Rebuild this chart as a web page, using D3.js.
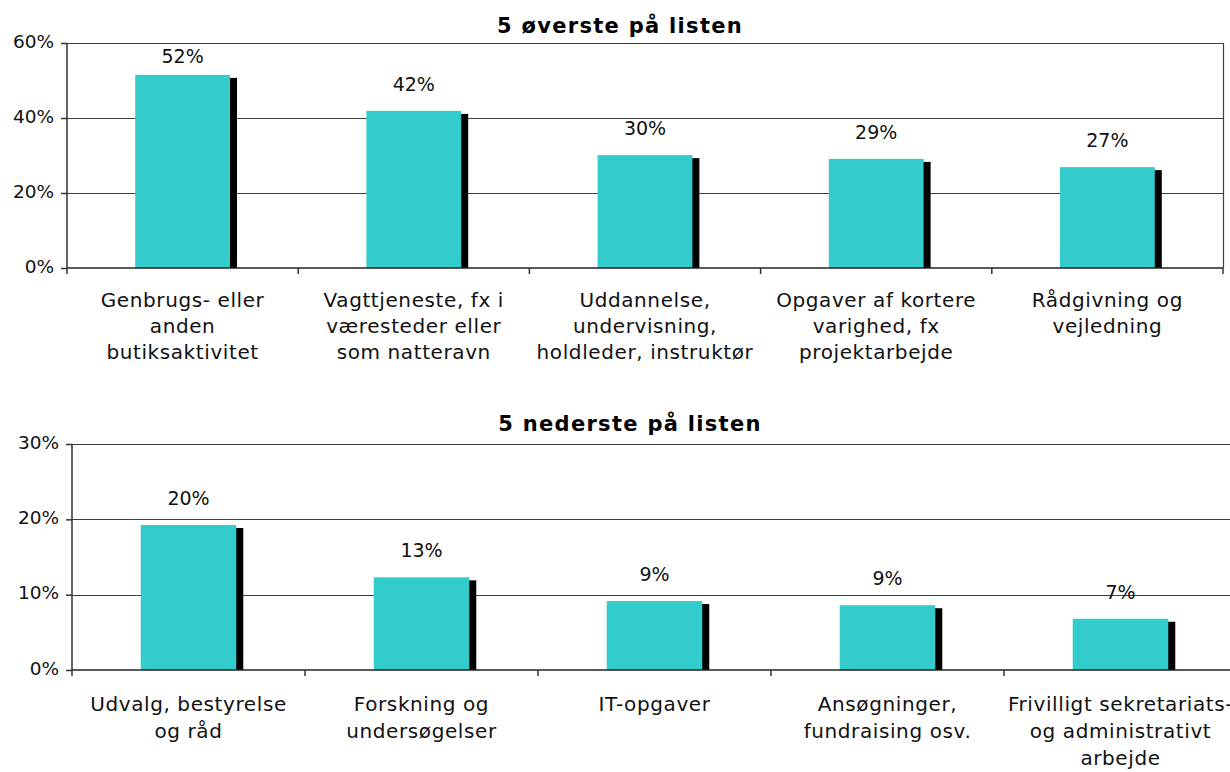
<!DOCTYPE html>
<html>
<head>
<meta charset="utf-8">
<script src="https://cdn.jsdelivr.net/npm/d3@7"></script>
<style>
  body { margin: 0; background: #fff; }
  svg { display: block; font-family: "DejaVu Sans", Verdana, sans-serif; }
  .title { font-size: 21px; font-weight: bold; letter-spacing: 1.3px; }
  .tick text { font-size: 18.5px; fill: #111; }
  .val { font-size: 19px; fill: #111; }
  .cat { font-size: 20px; fill: #111; letter-spacing: 0.6px; }
</style>
</head>
<body>
<svg></svg>
<script>
// top 5
var topCategories = [
	['Genbrugs- eller', 'anden', 'butiksaktivitet'],
	['Vagttjeneste, fx i', 'væresteder eller', 'som natteravn'],
	['Uddannelse,', 'undervisning,', 'holdleder, instruktør'],
	['Opgaver af kortere', 'varighed, fx', 'projektarbejde'],
	['Rådgivning og', 'vejledning']
];
var topValues = [0.515, 0.419, 0.301, 0.291, 0.269];
var topLabels = ['52%', '42%', '30%', '29%', '27%'];
var topTicks = [0, 0.2, 0.4, 0.6];

// bottom 5
var bottomCategories = [
	['Udvalg, bestyrelse', 'og råd'],
	['Forskning og', 'undersøgelser'],
	['IT-opgaver'],
	['Ansøgninger,', 'fundraising osv.'],
	['Frivilligt sekretariats-', 'og administrativt', 'arbejde']
];
var bottomValues = [0.1925, 0.123, 0.0915, 0.086, 0.068];
var bottomLabels = ['20%', '13%', '9%', '9%', '7%'];
var bottomTicks = [0, 0.1, 0.2, 0.3];

var svg = d3.select('svg')
	.attr('width', 1230)
	.attr('height', 772);

var drawPanel = function (opt) {
	var g = svg.append('g');
	var x = d3.scaleBand()
		.domain(d3.range(opt.cats.length))
		.range([opt.left, opt.right])
		.padding(0);
	var y = d3.scaleLinear()
		.domain([0, opt.max])
		.range([opt.bottom, opt.top]);
	var barW = x.bandwidth() * 0.41;

	// title
	g.append('text')
		.attr('class', 'title')
		.attr('x', opt.titleX)
		.attr('y', opt.titleY)
		.attr('text-anchor', 'middle')
		.text(opt.title);

	// gridlines
	g.append('g').selectAll('line')
		.data(opt.ticks.slice(1))
		.enter().append('line')
		.attr('x1', opt.left).attr('x2', opt.right)
		.attr('y1', function (d) { return Math.round(y(d)) + 0.5; })
		.attr('y2', function (d) { return Math.round(y(d)) + 0.5; })
		.attr('stroke', '#404040')
		.attr('stroke-width', 1.2);

	if (opt.rightBorder) {
		g.append('line')
			.attr('x1', opt.right + 0.5).attr('x2', opt.right + 0.5)
			.attr('y1', opt.top).attr('y2', opt.bottom)
			.attr('stroke', '#404040')
			.attr('stroke-width', 1.2);
	}

	// shadows, then bars
	g.append('g').selectAll('rect')
		.data(opt.values)
		.enter().append('rect')
		.attr('x', function (d, i) { return x(i) + (x.bandwidth() - barW) / 2 + 7; })
		.attr('y', function (d) { return y(d) + 3; })
		.attr('width', barW)
		.attr('height', function (d) { return opt.bottom - y(d) - 3; })
		.attr('fill', '#000');

	g.append('g').selectAll('rect')
		.data(opt.values)
		.enter().append('rect')
		.attr('x', function (d, i) { return x(i) + (x.bandwidth() - barW) / 2; })
		.attr('y', function (d) { return y(d); })
		.attr('width', barW)
		.attr('height', function (d) { return opt.bottom - y(d); })
		.attr('fill', '#33CCCC');

	// value labels
	g.append('g').selectAll('text')
		.data(opt.values)
		.enter().append('text')
		.attr('class', 'val')
		.attr('text-anchor', 'middle')
		.attr('x', function (d, i) { return x(i) + x.bandwidth() / 2; })
		.attr('y', function (d) { return Math.max(y(d) - 20, opt.top + 20); })
		.text(function (d, i) { return opt.labels[i]; });

	// y axis
	var yAxis = d3.axisLeft(y)
		.tickValues(opt.ticks)
		.tickFormat(d3.format('.0%'))
		.tickSize(6)
		.tickPadding(7);
	var ya = g.append('g')
		.attr('transform', 'translate(' + opt.left + ',0)')
		.call(yAxis);
	ya.selectAll('path, line').attr('stroke', '#333').attr('stroke-width', 1.5);
	ya.select('.domain').attr('d', 'M0,' + opt.top + 'V' + opt.bottom);
	ya.selectAll('text').attr('dy', '0.23em').attr('fill', '#111');
	ya.attr('font-family', null).attr('font-size', null);

	// x axis (ticks on category boundaries)
	var bounds = d3.range(opt.cats.length + 1).map(function (i) {
		return opt.left + i * x.step();
	});
	g.append('line')
		.attr('x1', opt.left).attr('x2', opt.right)
		.attr('y1', opt.bottom).attr('y2', opt.bottom)
		.attr('stroke', '#222')
		.attr('stroke-width', 1.5);
	g.append('g').selectAll('line')
		.data(bounds)
		.enter().append('line')
		.attr('x1', function (d) { return d; })
		.attr('x2', function (d) { return d; })
		.attr('y1', opt.bottom)
		.attr('y2', opt.bottom + 6)
		.attr('stroke', '#333')
		.attr('stroke-width', 1.5);

	// category labels
	var cat = g.append('g').selectAll('text')
		.data(opt.cats)
		.enter().append('text')
		.attr('class', 'cat')
		.attr('text-anchor', 'middle')
		.attr('x', function (d, i) { return x(i) + x.bandwidth() / 2; })
		.attr('y', opt.bottom + opt.catOffset);
	cat.selectAll('tspan')
		.data(function (d) { return d; })
		.enter().append('tspan')
		.attr('x', function () { return d3.select(this.parentNode).attr('x'); })
		.attr('dy', function (d, i) { return i === 0 ? 0 : opt.lineH; })
		.text(function (d) { return d; });
};

drawPanel({
	title: '5 øverste på listen', titleX: 620, titleY: 33,
	cats: topCategories, values: topValues, labels: topLabels,
	ticks: topTicks, max: 0.6,
	left: 67, right: 1223, top: 43, bottom: 268,
	rightBorder: true, catOffset: 39, lineH: 26
});

drawPanel({
	title: '5 nederste på listen', titleX: 630, titleY: 431,
	cats: bottomCategories, values: bottomValues, labels: bottomLabels,
	ticks: bottomTicks, max: 0.3,
	left: 72, right: 1237, top: 444, bottom: 670,
	rightBorder: false, catOffset: 41, lineH: 27
});
</script>
</body>
</html>
